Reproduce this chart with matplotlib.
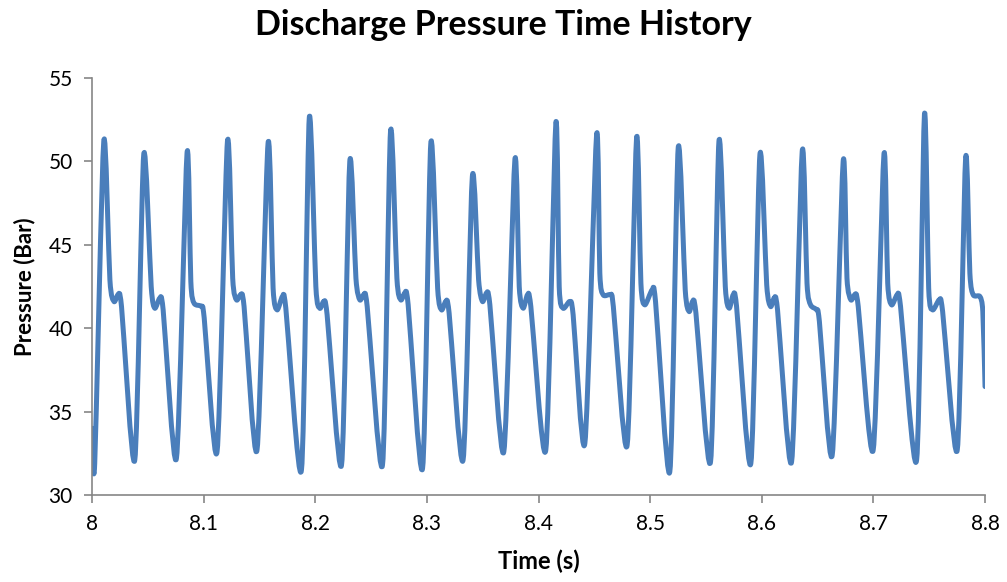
import numpy as np
import matplotlib
matplotlib.use("Agg")
import matplotlib.pyplot as plt
from matplotlib.path import Path
from matplotlib.patches import PathPatch

plt.rcParams['font.family'] = ['Lato', 'DejaVu Sans']

# start / end of the record
t_start, p_start = 8.000, 34.0
t_end, p_end = 8.800, 36.5

# troughs just before each rise
trough_t = [8.0024, 8.0383, 8.0756, 8.1120, 8.1478, 8.1876, 8.2235, 8.2602, 8.2961, 8.3324, 8.3689,
            8.4065, 8.4415, 8.4794, 8.5176, 8.5541, 8.5902, 8.6267, 8.6631, 8.6998, 8.7387, 8.7751]
trough_p = [31.9, 32.1, 32.2, 32.6, 32.7, 31.5, 31.8, 31.8, 31.6, 32.1, 32.6,
            32.7, 33.1, 33.0, 31.4, 32.0, 31.9, 32.0, 32.4, 32.7, 32.1, 32.7]

# discharge peaks
peak_t = [8.0105, 8.0463, 8.0851, 8.1213, 8.1577, 8.1946, 8.2309, 8.2674, 8.3035, 8.3407, 8.3788,
          8.4155, 8.4520, 8.4878, 8.5251, 8.5616, 8.5983, 8.6362, 8.6729, 8.7094, 8.7457, 8.7826]
peak_p = [51.2, 50.4, 50.5, 51.2, 51.1, 52.6, 50.0, 51.8, 51.1, 49.1, 50.1,
          52.3, 51.6, 51.4, 50.8, 51.2, 50.4, 50.6, 50.0, 50.4, 52.8, 50.2]

# knee where the fast drop flattens
knee_t = [8.0160, 8.0530, 8.0885, 8.1260, 8.1622, 8.2005, 8.2364, 8.2731, 8.3096, 8.3463, 8.3827,
          8.4185, 8.4549, 8.4917, 8.5314, 8.5673, 8.6044, 8.6405, 8.6763, 8.7128, 8.7495, 8.7864]
knee_p = [42.9, 42.5, 42.8, 43.0, 42.4, 42.5, 43.0, 43.0, 42.4, 42.9, 42.5,
          42.5, 43.3, 42.7, 42.3, 42.5, 42.6, 42.7, 43.0, 42.7, 42.4, 43.3]

# small dip after the drop
dip_t = [8.0197, 8.0562, 8.0914, 8.1294, 8.1658, 8.2040, 8.2399, 8.2766, 8.3131, 8.3498, 8.3862,
         8.4220, 8.4579, 8.4952, 8.5349, 8.5708, 8.6079, 8.6437, 8.6798, 8.7163, 8.7530, 8.7894]
dip_p = [41.6, 41.2, 41.5, 41.7, 41.1, 41.2, 41.7, 41.7, 41.1, 41.6, 41.2,
         41.2, 42.0, 41.4, 41.0, 41.2, 41.3, 41.4, 41.7, 41.4, 41.1, 42.0]

# secondary bump
bump_t = [8.0233, 8.0607, 8.0980, 8.1332, 8.1706, 8.2076, 8.2435, 8.2802, 8.3169, 8.3534, 8.3901,
          8.4280, 8.4645, 8.5018, 8.5380, 8.5744, 8.6111, 8.6491, 8.6834, 8.7213, 8.7590, 8.7954]
bump_p = [42.0, 41.8, 41.3, 42.0, 41.9, 41.6, 42.0, 42.1, 41.6, 42.1, 42.0,
          41.6, 42.0, 42.3, 41.6, 42.0, 41.8, 41.1, 42.0, 42.0, 41.7, 41.9]

# start of the slow decline
fall_t = [8.0264, 8.0637, 8.1005, 8.1362, 8.1736, 8.2106, 8.2465, 8.2832, 8.3199, 8.3564, 8.3931,
          8.4310, 8.4670, 8.5048, 8.5410, 8.5774, 8.6141, 8.6516, 8.6864, 8.7243, 8.7620, 8.7980]
fall_p = [41.3, 41.1, 40.6, 41.3, 41.2, 40.8, 41.3, 41.4, 40.9, 41.4, 41.3,
          40.8, 41.3, 41.6, 40.9, 41.3, 41.1, 40.4, 41.3, 41.3, 41.0, 41.0]

t = np.concatenate([[t_start], trough_t, peak_t, knee_t, dip_t, bump_t, fall_t, [t_end]])
p = np.concatenate([[p_start], trough_p, peak_p, knee_p, dip_p, bump_p, fall_p, [p_end]])
order = np.argsort(t)
pts = np.column_stack([t[order], p[order]])

# smoothed line like the spreadsheet's: cubic bezier segments through the points
ext = np.vstack([pts[:1], pts, pts[-1:]])
verts, codes = [pts[0]], [Path.MOVETO]
for i in range(1, len(ext) - 2):
    c1 = ext[i] + (ext[i + 1] - ext[i - 1]) / 8
    c2 = ext[i + 1] - (ext[i + 2] - ext[i]) / 8
    verts += [c1, c2, ext[i + 1]]
    codes += [Path.CURVE4] * 3

fig = plt.figure(figsize=(10.07, 5.82), dpi=100)
ax = fig.add_axes([0.0914, 0.1495, 0.8868, 0.7165])
ax.add_patch(PathPatch(Path(verts, codes), facecolor='none', edgecolor='#4a7ebb',
                       linewidth=3.6, joinstyle='round', capstyle='round'))

ax.set_xlim(8, 8.8)
ax.set_ylim(30, 55)
ax.set_xticks(np.arange(8, 8.81, 0.1))
ax.set_xticklabels(['8', '8.1', '8.2', '8.3', '8.4', '8.5', '8.6', '8.7', '8.8'])
ax.set_yticks([30, 35, 40, 45, 50, 55])

for s in ['top', 'right']:
    ax.spines[s].set_visible(False)
for s in ['left', 'bottom']:
    ax.spines[s].set_color('#868686')
    ax.spines[s].set_linewidth(1.2)
ax.tick_params(axis='both', colors='#868686', width=1.2, length=6, labelcolor='black', labelsize=15, pad=8)

fig.suptitle('Discharge Pressure Time History', fontsize=24.5, fontweight='bold', x=0.5, y=0.957, va='center')
ax.set_xlabel('Time (s)', fontsize=17, fontweight='bold', labelpad=11)
ax.set_ylabel('Pressure (Bar)', fontsize=16, fontweight='bold', labelpad=9)

fig.savefig('out.png', dpi=100)
